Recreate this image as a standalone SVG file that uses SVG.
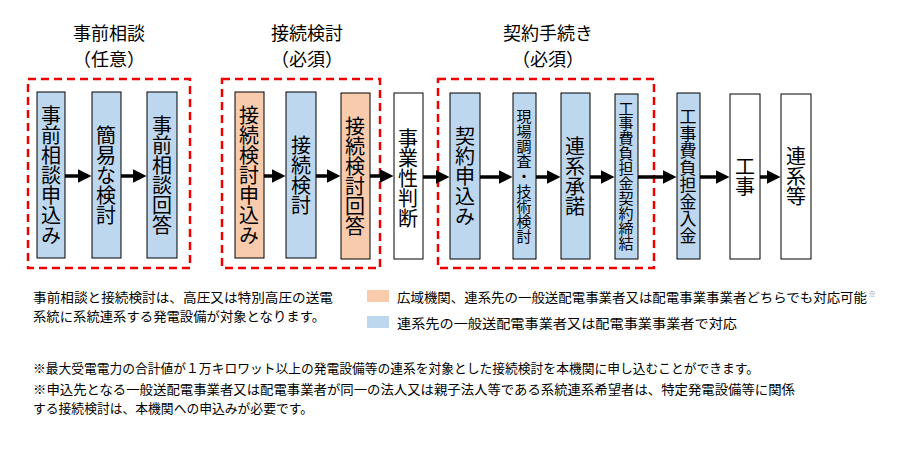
<svg xmlns="http://www.w3.org/2000/svg" width="922" height="449" viewBox="0 0 922 449">
<style>
text{font-family:"Noto Sans CJK JP","Noto Sans CJK SC",sans-serif;fill:#000}
.b{fill:#bdd7ee;stroke:#000;stroke-width:1}
.o{fill:#f8cbad;stroke:#000;stroke-width:1}
.w{fill:#fff;stroke:#000;stroke-width:1}
.d{fill:none;stroke:#e00;stroke-width:2.5;stroke-dasharray:8,5}
.v{writing-mode:vertical-rl;text-anchor:middle;font-size:20px}
.vs{writing-mode:vertical-rl;text-anchor:middle;font-size:15px}
.t{font-size:18px;text-anchor:middle}
.s{font-size:13px}
.c line{stroke:#000;stroke-width:3.5}
</style>
<defs><marker id="a" markerWidth="4" markerHeight="4" refX="3" refY="2" orient="auto"><path d="M0,0L4,2L0,4z" fill="#000"/></marker></defs>
<text class="t" x="109" y="40">事前相談</text><text class="t" x="109" y="66">（任意）</text>
<text class="t" x="307" y="40">接続検討</text><text class="t" x="307" y="66">（必須）</text>
<text class="t" x="548" y="40">契約手続き</text><text class="t" x="548" y="66">（必須）</text>
<rect class="d" x="28" y="79" width="162" height="189"/>
<rect class="d" x="222" y="79" width="158" height="189"/>
<rect class="d" x="438" y="79" width="216" height="189"/>
<g class="c">
<line x1="65" y1="176" x2="88" y2="176" marker-end="url(#a)"/>
<line x1="121" y1="176" x2="143" y2="176" marker-end="url(#a)"/>
<line x1="264" y1="176" x2="282" y2="176" marker-end="url(#a)"/>
<line x1="316" y1="176" x2="337" y2="176" marker-end="url(#a)"/>
<line x1="370" y1="176" x2="390" y2="176" marker-end="url(#a)"/>
<line x1="423" y1="177" x2="446" y2="177" marker-end="url(#a)"/>
<line x1="480" y1="177" x2="509" y2="177" marker-end="url(#a)"/>
<line x1="536" y1="177" x2="557" y2="177" marker-end="url(#a)"/>
<line x1="590" y1="177" x2="611" y2="177" marker-end="url(#a)"/>
<line x1="638" y1="177" x2="673" y2="177" marker-end="url(#a)"/>
<line x1="700" y1="177" x2="726" y2="177" marker-end="url(#a)"/>
<line x1="760" y1="177" x2="777" y2="177" marker-end="url(#a)"/>
</g>
<g id="n1"><rect class="b" x="37" y="92" width="28" height="166"/><text class="v" x="51" y="175">事前相談申込み</text></g>
<g id="n2"><rect class="b" x="92" y="92" width="29" height="166"/><text class="v" x="106" y="175">簡易な検討</text></g>
<g id="n3"><rect class="b" x="147" y="92" width="30" height="166"/><text class="v" x="162" y="175">事前相談回答</text></g>
<g id="n4"><rect class="o" x="235" y="92" width="29" height="166"/><text class="v" x="249" y="175">接続検討申込み</text></g>
<g id="n5"><rect class="b" x="286" y="92" width="30" height="166"/><text class="v" x="301" y="175">接続検討</text></g>
<g id="n6"><rect class="o" x="341" y="93" width="29" height="166"/><text class="v" x="355" y="176">接続検討回答</text></g>
<g id="n7"><rect class="w" x="394" y="93" width="29" height="166"/><text class="v" x="408" y="178">事業性判断</text></g>
<g id="n8"><rect class="b" x="450" y="93" width="30" height="166"/><text class="v" x="465" y="176">契約申込み</text></g>
<g id="n9"><rect class="b" x="513" y="93" width="23" height="166"/><text class="vs" x="524" y="176">現場調査・技術検討</text></g>
<g id="n10"><rect class="b" x="561" y="93" width="29" height="166"/><text class="v" x="575" y="176">連系承諾</text></g>
<g id="n11"><rect class="b" x="615" y="94" width="23" height="165"/><text class="vs" x="626" y="176">工事費負担金契約締結</text></g>
<g id="n12"><rect class="b" x="677" y="93" width="23" height="166"/><text class="vs" x="688" y="176" style="font-size:17px">工事費負担金入金</text></g>
<g id="n13"><rect class="w" x="730" y="94" width="30" height="165"/><text class="v" x="745" y="176">工事</text></g>
<g id="n14"><rect class="w" x="781" y="94" width="30" height="165"/><text class="v" x="796" y="176">連系等</text></g>
<text class="s" x="33" y="302" textLength="300" lengthAdjust="spacingAndGlyphs">事前相談と接続検討は、高圧又は特別高圧の送電</text>
<text class="s" x="33" y="321" textLength="292" lengthAdjust="spacingAndGlyphs">系統に系統連系する発電設備が対象となります。</text>
<rect x="367" y="290" width="22" height="12" fill="#f8cbad"/>
<text class="s" x="397" y="302" textLength="470" lengthAdjust="spacingAndGlyphs">広域機関、連系先の一般送配電事業者又は配電事業事業者どちらでも対応可能</text>
<text x="868" y="297" style="font-size:8px;fill:#888">※</text>
<rect x="367" y="316" width="22" height="12" fill="#bdd7ee"/>
<text class="s" x="397" y="328" textLength="340" lengthAdjust="spacingAndGlyphs">連系先の一般送配電事業者又は配電事業事業者で対応</text>
<text class="s" x="33" y="373" textLength="726" lengthAdjust="spacingAndGlyphs">※最大受電電力の合計値が１万キロワット以上の発電設備等の連系を対象とした接続検討を本機関に申し込むことができます。</text>
<text class="s" x="33" y="394" textLength="762" lengthAdjust="spacingAndGlyphs">※申込先となる一般送配電事業者又は配電事業者が同一の法人又は親子法人等である系統連系希望者は、特定発電設備等に関係</text>
<text class="s" x="33" y="413" textLength="280" lengthAdjust="spacingAndGlyphs">する接続検討は、本機関への申込みが必要です。</text>
</svg>
